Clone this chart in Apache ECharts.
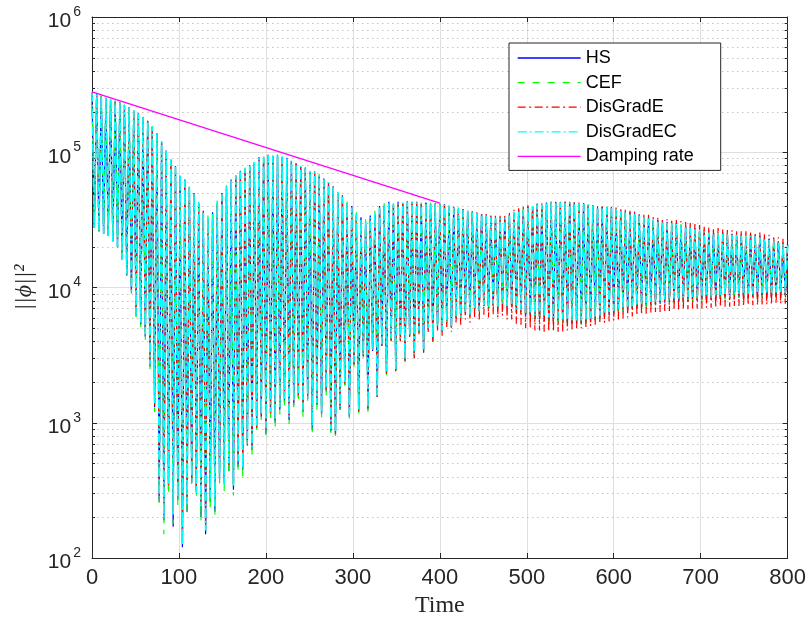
<!DOCTYPE html>
<html>
<head>
<meta charset="utf-8">
<title>Field energy</title>
<script src="https://cdn.jsdelivr.net/npm/echarts@6/dist/echarts.min.js"></script>
<style>
  html, body { margin: 0; padding: 0; background: #fff; }
  #chart { width: 809px; height: 623px; }
</style>
</head>
<body>
<div id="chart"></div>
<script>
// Successive maxima / minima of ||phi||^2 for each scheme, one value per oscillation.
const tMax = 800;
const cycles = 150;

const hsPeaks = [
  2.75e5,2.70e5,2.62e5,2.53e5,2.45e5,2.39e5,2.34e5,2.23e5,2.15e5,2.03e5,
  1.94e5,1.81e5,1.71e5,1.54e5,1.39e5,1.19e5,1.03e5,8.8e4,7.9e4,6.7e4,
  6.3e4,5.5e4,5.0e4,4.2e4,3.7e4,3.2e4,3.6e4,4.2e4,5.0e4,5.5e4,
  6.3e4,6.7e4,7.3e4,7.5e4,8.0e4,8.4e4,9.2e4,9.2e4,9.6e4,9.4e4,
  9.6e4,9.2e4,9.1e4,8.6e4,8.3e4,7.8e4,7.7e4,7.2e4,7.2e4,6.7e4,
  6.4e4,5.9e4,5.6e4,5.0e4,4.8e4,4.2e4,4.0e4,3.4e4,3.3e4,3.0e4,
  3.4e4,3.5e4,4.0e4,4.0e4,4.3e4,4.1e4,4.3e4,4.2e4,4.35e4,4.25e4,
  4.3e4,4.15e4,4.25e4,4.15e4,4.2e4,4.1e4,4.15e4,3.95e4,3.95e4,3.8e4,
  3.8e4,3.65e4,3.65e4,3.5e4,3.5e4,3.35e4,3.35e4,3.2e4,3.3e4,3.2e4,
  3.45e4,3.55e4,3.75e4,3.75e4,3.95e4,3.95e4,4.15e4,4.05e4,4.25e4,4.2e4,
  4.3e4,4.2e4,4.3e4,4.2e4,4.25e4,4.15e4,4.2e4,4.05e4,4.05e4,3.85e4,
  3.95e4,3.85e4,3.9e4,3.75e4,3.75e4,3.55e4,3.6e4,3.45e4,3.45e4,3.25e4,
  3.3e4,3.1e4,3.15e4,3.0e4,3.05e4,2.93e4,3.0e4,2.85e4,2.85e4,2.7e4,
  2.75e4,2.6e4,2.65e4,2.5e4,2.55e4,2.45e4,2.52e4,2.4e4,2.5e4,2.4e4,
  2.47e4,2.35e4,2.45e4,2.35e4,2.4e4,2.25e4,2.3e4,2.15e4,2.2e4,2.05e4,2.1e4
];
const hsTroughs = [
  2.75e4,2.6e4,2.5e4,2.4e4,2.2e4,2.0e4,1.6e4,1.25e4,9.3e3,6.2e3,
  5.3e3,4.3e3,2.6e3,1.3e3,2.6e2,1.9e2,3.2e2,1.7e2,2.7e2,1.2e2,
  2.2e2,3.6e2,3.1e2,2.0e2,1.5e2,2.6e2,2.2e2,3.8e2,3.6e2,4.4e2,
  3.2e2,4.7e2,4.5e2,6.8e2,6.3e2,9.0e2,1.1e3,8.3e2,1.15e3,1.0e3,
  1.25e3,1.4e3,1.05e3,1.35e3,1.55e3,1.2e3,1.5e3,8.8e2,1.35e3,1.15e3,
  1.7e3,8.6e2,8.1e2,1.25e3,1.9e3,1.1e3,2.7e3,1.2e3,3.1e3,1.25e3,
  3.4e3,1.55e3,3.7e3,2.3e3,4.1e3,2.45e3,4.1e3,2.9e3,4.4e3,3.1e3,
  4.7e3,3.4e3,4.9e3,4.1e3,5.1e3,4.7e3,5.5e3,5.1e3,5.9e3,5.9e3,
  6.5e3,6.2e3,6.8e3,6.7e3,7.3e3,7.0e3,7.5e3,7.1e3,7.5e3,7.1e3,
  7.2e3,6.7e3,6.6e3,6.1e3,6.1e3,5.8e3,5.8e3,5.7e3,5.7e3,5.6e3,
  5.6e3,5.5e3,5.5e3,5.4e3,5.4e3,5.4e3,5.5e3,5.6e3,5.8e3,5.9e3,
  6.1e3,6.3e3,6.4e3,6.5e3,6.7e3,6.8e3,6.9e3,7.0e3,7.2e3,7.3e3,
  7.4e3,7.5e3,7.6e3,7.7e3,7.8e3,7.8e3,7.9e3,7.9e3,8.0e3,8.0e3,
  8.0e3,8.1e3,8.1e3,8.2e3,8.2e3,8.2e3,8.3e3,8.3e3,8.3e3,8.4e3,
  8.4e3,8.4e3,8.5e3,8.5e3,8.5e3,8.6e3,8.6e3,8.6e3,8.7e3,8.7e3
];

const cefPeaks = [
  2.75e5,2.68e5,2.63e5,2.51e5,2.46e5,2.40e5,2.32e5,2.25e5,2.13e5,2.05e5,
  1.92e5,1.83e5,1.69e5,1.56e5,1.37e5,1.21e5,1.01e5,9.0e4,7.7e4,6.9e4,
  6.1e4,5.7e4,4.8e4,4.4e4,3.5e4,3.4e4,3.4e4,4.4e4,4.8e4,5.7e4,
  6.1e4,6.9e4,7.1e4,7.7e4,7.8e4,8.6e4,9.0e4,9.4e4,9.4e4,9.6e4,
  9.4e4,9.4e4,8.9e4,8.8e4,8.1e4,8.0e4,7.5e4,7.4e4,7.0e4,6.9e4,
  6.2e4,6.1e4,5.4e4,5.2e4,4.6e4,4.4e4,3.8e4,3.6e4,3.1e4,3.2e4,
  3.2e4,3.7e4,3.8e4,4.2e4,4.1e4,4.3e4,4.1e4,4.3e4,4.25e4,4.35e4,
  4.2e4,4.25e4,4.15e4,4.25e4,4.1e4,4.2e4,4.05e4,4.05e4,3.85e4,3.9e4,
  3.7e4,3.75e4,3.55e4,3.6e4,3.4e4,3.45e4,3.25e4,3.3e4,3.2e4,3.3e4,
  3.35e4,3.65e4,3.65e4,3.85e4,3.85e4,4.05e4,4.05e4,4.15e4,4.15e4,4.3e4,
  4.2e4,4.3e4,4.2e4,4.3e4,4.15e4,4.25e4,4.1e4,4.15e4,3.95e4,3.95e4,
  3.85e4,3.95e4,3.8e4,3.85e4,3.65e4,3.65e4,3.5e4,3.55e4,3.35e4,3.35e4,
  3.2e4,3.2e4,3.05e4,3.1e4,2.95e4,3.03e4,2.9e4,2.95e4,2.75e4,2.8e4,
  2.65e4,2.7e4,2.55e4,2.6e4,2.45e4,2.55e4,2.44e4,2.5e4,2.4e4,2.5e4,
  2.37e4,2.45e4,2.35e4,2.45e4,2.3e4,2.35e4,2.2e4,2.25e4,2.1e4,2.15e4,2.0e4
];
const cefTroughs = [
  2.75e4,2.6e4,2.5e4,2.4e4,2.2e4,1.95e4,1.55e4,1.2e4,9.0e3,6.0e3,
  5.1e3,4.1e3,2.5e3,1.2e3,2.4e2,1.5e2,3.0e2,1.8e2,2.4e2,1.3e2,
  2.1e2,3.4e2,2.9e2,1.9e2,1.7e2,2.3e2,2.1e2,3.5e2,3.1e2,4.1e2,
  2.9e2,4.5e2,4.0e2,6.5e2,5.6e2,8.6e2,1.05e3,7.9e2,1.05e3,9.0e2,
  1.15e3,1.35e3,9.8e2,1.3e3,1.5e3,1.1e3,1.45e3,8.5e2,1.25e3,1.1e3,
  1.6e3,8.2e2,7.9e2,1.2e3,1.85e3,1.05e3,2.6e3,1.15e3,3.0e3,1.2e3,
  3.3e3,1.5e3,3.6e3,2.2e3,4.0e3,2.4e3,4.0e3,2.8e3,4.3e3,3.0e3,
  4.6e3,3.3e3,4.8e3,4.0e3,5.0e3,4.6e3,5.4e3,5.0e3,5.8e3,5.8e3,
  6.4e3,6.1e3,6.7e3,6.6e3,7.2e3,6.9e3,7.4e3,7.0e3,7.4e3,7.0e3,
  7.1e3,6.6e3,6.5e3,6.0e3,6.0e3,5.7e3,5.7e3,5.6e3,5.6e3,5.5e3,
  5.5e3,5.4e3,5.4e3,5.3e3,5.3e3,5.3e3,5.4e3,5.5e3,5.7e3,5.8e3,
  6.0e3,6.2e3,6.3e3,6.4e3,6.6e3,6.7e3,6.8e3,6.9e3,7.0e3,7.1e3,
  7.2e3,7.3e3,7.4e3,7.5e3,7.6e3,7.6e3,7.7e3,7.7e3,7.8e3,7.8e3,
  7.8e3,7.9e3,7.9e3,8.0e3,8.0e3,8.0e3,8.1e3,8.1e3,8.1e3,8.2e3,
  8.2e3,8.2e3,8.3e3,8.3e3,8.3e3,8.4e3,8.4e3,8.4e3,8.5e3,8.5e3
];

const dgePeaks = [
  2.75e5,2.69e5,2.62e5,2.52e5,2.44e5,2.40e5,2.33e5,2.23e5,2.14e5,2.03e5,
  1.93e5,1.81e5,1.70e5,1.54e5,1.38e5,1.19e5,1.02e5,8.8e4,7.8e4,6.7e4,
  6.2e4,5.5e4,4.9e4,4.2e4,3.6e4,3.2e4,3.5e4,4.2e4,4.9e4,5.5e4,
  6.2e4,6.7e4,7.2e4,7.5e4,7.9e4,8.4e4,9.1e4,9.2e4,9.5e4,9.4e4,
  9.5e4,9.2e4,9.0e4,8.6e4,8.2e4,7.8e4,7.6e4,7.2e4,7.1e4,6.7e4,
  6.3e4,5.9e4,5.5e4,5.0e4,4.7e4,4.2e4,3.9e4,3.4e4,3.2e4,3.0e4,
  3.3e4,3.5e4,3.9e4,4.0e4,4.2e4,4.1e4,4.2e4,4.2e4,4.3e4,4.25e4,
  4.25e4,4.15e4,4.2e4,4.15e4,4.15e4,4.1e4,4.1e4,3.95e4,3.9e4,3.8e4,
  3.8e4,3.7e4,3.65e4,3.6e4,3.5e4,3.5e4,3.4e4,3.4e4,3.4e4,3.45e4,
  3.55e4,3.75e4,3.85e4,3.95e4,4.05e4,4.1e4,4.2e4,4.2e4,4.25e4,4.3e4,
  4.3e4,4.3e4,4.3e4,4.3e4,4.25e4,4.25e4,4.2e4,4.15e4,4.1e4,4.0e4,
  4.0e4,4.0e4,3.95e4,3.9e4,3.85e4,3.75e4,3.7e4,3.65e4,3.55e4,3.5e4,
  3.45e4,3.35e4,3.3e4,3.25e4,3.2e4,3.2e4,3.15e4,3.1e4,3.05e4,3.0e4,
  2.95e4,2.9e4,2.85e4,2.8e4,2.75e4,2.75e4,2.7e4,2.7e4,2.65e4,2.65e4,
  2.6e4,2.6e4,2.6e4,2.55e4,2.55e4,2.5e4,2.45e4,2.4e4,2.35e4,2.3e4,2.25e4
];
const dgeTroughs = [
  2.75e4,2.6e4,2.5e4,2.4e4,2.2e4,2.0e4,1.6e4,1.22e4,9.4e3,6.2e3,
  5.4e3,4.4e3,2.7e3,1.35e3,2.7e2,2.1e2,3.4e2,2.2e2,2.9e2,1.3e2,
  2.6e2,3.9e2,3.2e2,2.5e2,1.65e2,2.9e2,2.5e2,4.3e2,3.7e2,4.9e2,
  3.5e2,5.3e2,4.7e2,7.3e2,6.8e2,9.2e2,1.12e3,8.8e2,1.18e3,1.02e3,
  1.28e3,1.45e3,1.08e3,1.42e3,1.6e3,1.22e3,1.55e3,9.3e2,1.38e3,1.18e3,
  1.75e3,8.8e2,8.3e2,1.28e3,1.95e3,1.12e3,2.7e3,1.2e3,3.1e3,1.28e3,
  3.4e3,1.55e3,3.7e3,2.3e3,4.0e3,2.4e3,4.0e3,2.8e3,4.3e3,3.0e3,
  4.5e3,3.3e3,4.6e3,3.9e3,4.8e3,4.4e3,5.1e3,4.7e3,5.4e3,5.3e3,
  5.8e3,5.5e3,6.0e3,5.8e3,6.3e3,6.0e3,6.3e3,6.0e3,6.2e3,5.8e3,
  5.8e3,5.4e3,5.3e3,5.0e3,5.0e3,4.8e3,4.8e3,4.7e3,4.7e3,4.7e3,
  4.7e3,4.7e3,4.8e3,4.8e3,4.9e3,5.0e3,5.1e3,5.2e3,5.3e3,5.4e3,
  5.5e3,5.6e3,5.7e3,5.8e3,5.9e3,6.0e3,6.1e3,6.2e3,6.3e3,6.4e3,
  6.5e3,6.6e3,6.6e3,6.7e3,6.7e3,6.8e3,6.8e3,6.9e3,6.9e3,7.0e3,
  7.0e3,7.0e3,7.1e3,7.1e3,7.1e3,7.2e3,7.2e3,7.2e3,7.3e3,7.3e3,
  7.3e3,7.4e3,7.4e3,7.4e3,7.5e3,7.5e3,7.5e3,7.6e3,7.6e3,7.6e3
];

const dgecPeaks = [
  2.75e5,2.69e5,2.63e5,2.52e5,2.45e5,2.40e5,2.33e5,2.24e5,2.14e5,2.04e5,
  1.93e5,1.82e5,1.70e5,1.55e5,1.38e5,1.20e5,1.02e5,8.9e4,7.8e4,6.8e4,
  6.2e4,5.6e4,4.9e4,4.3e4,3.6e4,3.3e4,3.5e4,4.3e4,4.9e4,5.6e4,
  6.2e4,6.8e4,7.2e4,7.6e4,7.9e4,8.5e4,9.1e4,9.3e4,9.5e4,9.5e4,
  9.5e4,9.3e4,9.0e4,8.7e4,8.2e4,7.9e4,7.6e4,7.3e4,7.1e4,6.8e4,
  6.3e4,6.0e4,5.5e4,5.1e4,4.7e4,4.3e4,3.9e4,3.5e4,3.2e4,3.1e4,
  3.3e4,3.6e4,3.9e4,4.1e4,4.2e4,4.2e4,4.2e4,4.25e4,4.3e4,4.3e4,
  4.25e4,4.2e4,4.2e4,4.2e4,4.15e4,4.15e4,4.1e4,4.0e4,3.9e4,3.85e4,
  3.75e4,3.7e4,3.6e4,3.55e4,3.45e4,3.4e4,3.3e4,3.25e4,3.25e4,3.25e4,
  3.4e4,3.6e4,3.7e4,3.8e4,3.9e4,4.0e4,4.1e4,4.1e4,4.2e4,4.25e4,
  4.25e4,4.25e4,4.25e4,4.25e4,4.2e4,4.2e4,4.15e4,4.1e4,4.0e4,3.9e4,
  3.9e4,3.9e4,3.85e4,3.8e4,3.7e4,3.6e4,3.55e4,3.5e4,3.4e4,3.3e4,
  3.25e4,3.15e4,3.1e4,3.05e4,3.0e4,2.98e4,2.95e4,2.9e4,2.8e4,2.75e4,
  2.7e4,2.65e4,2.6e4,2.55e4,2.5e4,2.5e4,2.48e4,2.45e4,2.45e4,2.45e4,
  2.42e4,2.4e4,2.4e4,2.4e4,2.35e4,2.3e4,2.25e4,2.2e4,2.15e4,2.1e4,2.05e4
];
const dgecTroughs = [
  2.75e4,2.6e4,2.5e4,2.4e4,2.2e4,2.0e4,1.6e4,1.25e4,9.5e3,6.3e3,
  5.5e3,4.5e3,2.7e3,1.4e3,2.8e2,2.0e2,3.5e2,2.1e2,2.8e2,1.25e2,
  2.5e2,4.0e2,3.0e2,2.4e2,1.6e2,2.8e2,2.4e2,4.2e2,3.5e2,5.0e2,
  3.4e2,5.2e2,4.6e2,7.6e2,6.6e2,9.5e2,1.15e3,9.1e2,1.2e3,1.05e3,
  1.3e3,1.5e3,1.1e3,1.45e3,1.65e3,1.25e3,1.6e3,9.5e2,1.4e3,1.2e3,
  1.8e3,9.0e2,8.5e2,1.3e3,2.0e3,1.15e3,2.8e3,1.25e3,3.2e3,1.3e3,
  3.5e3,1.6e3,3.8e3,2.4e3,4.2e3,2.5e3,4.2e3,2.95e3,4.5e3,3.2e3,
  4.8e3,3.5e3,5.0e3,4.2e3,5.2e3,4.8e3,5.6e3,5.2e3,6.0e3,6.0e3,
  6.6e3,6.3e3,6.9e3,6.8e3,7.4e3,7.1e3,7.6e3,7.2e3,7.6e3,7.2e3,
  7.4e3,6.9e3,6.8e3,6.5e3,6.4e3,6.2e3,6.2e3,6.1e3,6.0e3,6.0e3,
  5.9e3,5.8e3,5.8e3,5.7e3,5.7e3,5.7e3,5.8e3,5.9e3,6.1e3,6.2e3,
  6.4e3,6.6e3,6.7e3,6.9e3,7.0e3,7.2e3,7.3e3,7.4e3,7.6e3,7.7e3,
  7.8e3,7.9e3,8.0e3,8.1e3,8.2e3,8.3e3,8.3e3,8.4e3,8.5e3,8.5e3,
  8.6e3,8.6e3,8.7e3,8.7e3,8.8e3,8.8e3,8.8e3,8.9e3,8.9e3,8.9e3,
  9.0e3,9.0e3,9.0e3,9.1e3,9.1e3,9.1e3,9.2e3,9.2e3,9.2e3,9.2e3
];

// Exponential damping reference line (start and end points).
const dampingTime = [0, 400];
const dampingValue = [2.8e5, 4.2e4];

const xTicks = [0, 100, 200, 300, 400, 500, 600, 700, 800];
const yDecades = [1e2, 1e3, 1e4, 1e5, 1e6];
const seriesNames = ['HS', 'CEF', 'DisGradE', 'DisGradEC', 'Damping rate'];

// Interleave maxima and minima on a uniform time grid.
const step = tMax / cycles;
function zigzag(peaks, troughs) {
  const pts = [];
  for (let k = 0; k < peaks.length; k++) {
    pts.push([k * step, peaks[k]]);
    if (k < troughs.length) pts.push([(k + 0.5) * step, troughs[k]]);
  }
  return pts;
}

// Minor log grid: 2..9 times each decade.
const minorValues = [];
for (let i = 0; i < yDecades.length - 1; i++) {
  for (let m = 2; m <= 9; m++) minorValues.push([yDecades[i] * m]);
}

const axisColor = '#262626';
const sans = '"Liberation Sans", Arial, Helvetica, sans-serif';
const serif = '"Liberation Serif", "DejaVu Serif", serif';

function lineSeries(name, data, color, dash, width, z) {
  return {
    name, type: 'line', data, z,
    symbol: 'none', showSymbol: false, silent: true,
    animation: false,
    lineStyle: { color, width, type: dash },
    itemStyle: { color }
  };
}

const chart = echarts.init(document.getElementById('chart'), null, { renderer: 'canvas' });

const option = {
  animation: false,
  backgroundColor: '#ffffff',
  grid: { left: 92, right: 18, top: 17, bottom: 65, containLabel: false },
  legend: {
    data: seriesNames,
    orient: 'vertical',
    left: 509, top: 43,
    padding: [5, 27, 4, 8],
    itemWidth: 63, itemHeight: 14, itemGap: 4.6,
    itemStyle: { opacity: 0 },
    lineStyle: { width: 1.3 },
    backgroundColor: '#ffffff',
    borderColor: axisColor, borderWidth: 1,
    textStyle: { fontFamily: sans, fontSize: 18, color: '#000', lineHeight: 20 },
    selectedMode: false
  },
  xAxis: [
    {
      type: 'value', min: 0, max: 800, interval: 100, position: 'bottom',
      axisLine: { show: true, onZero: false, lineStyle: { color: axisColor, width: 1 } },
      axisTick: { show: true, inside: true, length: 5, lineStyle: { color: axisColor } },
      axisLabel: {
        margin: 9, color: axisColor, fontFamily: sans, fontSize: 22,
        formatter: v => (xTicks.indexOf(v) >= 0 ? String(v) : '')
      },
      splitLine: { show: true, lineStyle: { color: '#dfdfdf', width: 1 } },
      name: 'Time', nameLocation: 'middle', nameGap: 36,
      nameTextStyle: { fontFamily: serif, fontSize: 24, color: axisColor }
    },
    {
      type: 'value', min: 0, max: 800, interval: 100, position: 'top',
      axisLine: { show: true, onZero: false, lineStyle: { color: axisColor, width: 1 } },
      axisTick: { show: true, inside: true, length: 5, lineStyle: { color: axisColor } },
      axisLabel: { show: false },
      splitLine: { show: false }
    }
  ],
  yAxis: [
    {
      type: 'log', logBase: 10, min: 1e2, max: 1e6, position: 'left',
      axisLine: { show: true, onZero: false, lineStyle: { color: axisColor, width: 1 } },
      axisTick: { show: true, inside: true, length: 5, lineStyle: { color: axisColor } },
      axisLabel: {
        margin: 11,
        formatter: v => '{b|10}{s|' + Math.round(Math.log10(v)) + '}',
        rich: {
          b: { fontFamily: sans, fontSize: 21, color: axisColor, lineHeight: 30, verticalAlign: 'bottom' },
          s: { fontFamily: sans, fontSize: 14, color: axisColor, verticalAlign: 'top', padding: [3, 0, 0, 2] }
        }
      },
      splitLine: { show: true, lineStyle: { color: '#dfdfdf', width: 1 } },
      name: '||\u03D5||\u00B2', nameLocation: 'middle', nameGap: 54, nameRotate: 90,
      nameTextStyle: { fontFamily: serif, fontSize: 24, color: axisColor, fontStyle: 'italic' }
    },
    {
      type: 'log', logBase: 10, min: 1e2, max: 1e6, position: 'right',
      axisLine: { show: true, onZero: false, lineStyle: { color: axisColor, width: 1 } },
      axisTick: { show: true, inside: true, length: 5, lineStyle: { color: axisColor } },
      axisLabel: { show: false },
      splitLine: { show: false }
    }
  ],
  series: [
    {
      name: 'minor-grid', type: 'custom', silent: true, z: 1,
      xAxisIndex: 0, yAxisIndex: 0,
      encode: { y: 0 },
      data: minorValues,
      renderItem: (params, api) => {
        const v = api.value(0);
        const a = api.coord([0, v]);
        const b = api.coord([800, v]);
        const y = Math.round(a[1]) + 0.5;
        return {
          type: 'group',
          children: [
            { type: 'line', shape: { x1: a[0], y1: y, x2: b[0], y2: y },
              style: { stroke: '#c4c4c4', lineWidth: 1, lineDash: [1.5, 3.5] } },
            { type: 'line', shape: { x1: a[0], y1: y, x2: a[0] + 3, y2: y },
              style: { stroke: axisColor, lineWidth: 1 } },
            { type: 'line', shape: { x1: b[0] - 3, y1: y, x2: b[0], y2: y },
              style: { stroke: axisColor, lineWidth: 1 } }
          ]
        };
      }
    },
    lineSeries('HS', zigzag(hsPeaks, hsTroughs), '#0000ff', 'solid', 1.2, 3),
    lineSeries('CEF', zigzag(cefPeaks, cefTroughs), '#00ff00', [7, 8], 1.2, 4),
    lineSeries('DisGradE', zigzag(dgePeaks, dgeTroughs), '#ff0000', [8, 3.5, 2, 3.5], 1.2, 5),
    lineSeries('DisGradEC', zigzag(dgecPeaks, dgecTroughs), '#00ffff', [9, 3, 2, 3], 1.7, 6),
    lineSeries('Damping rate', dampingTime.map((t, i) => [t, dampingValue[i]]), '#ff00ff', 'solid', 1.3, 7)
  ]
};

chart.setOption(option);
</script>
</body>
</html>
